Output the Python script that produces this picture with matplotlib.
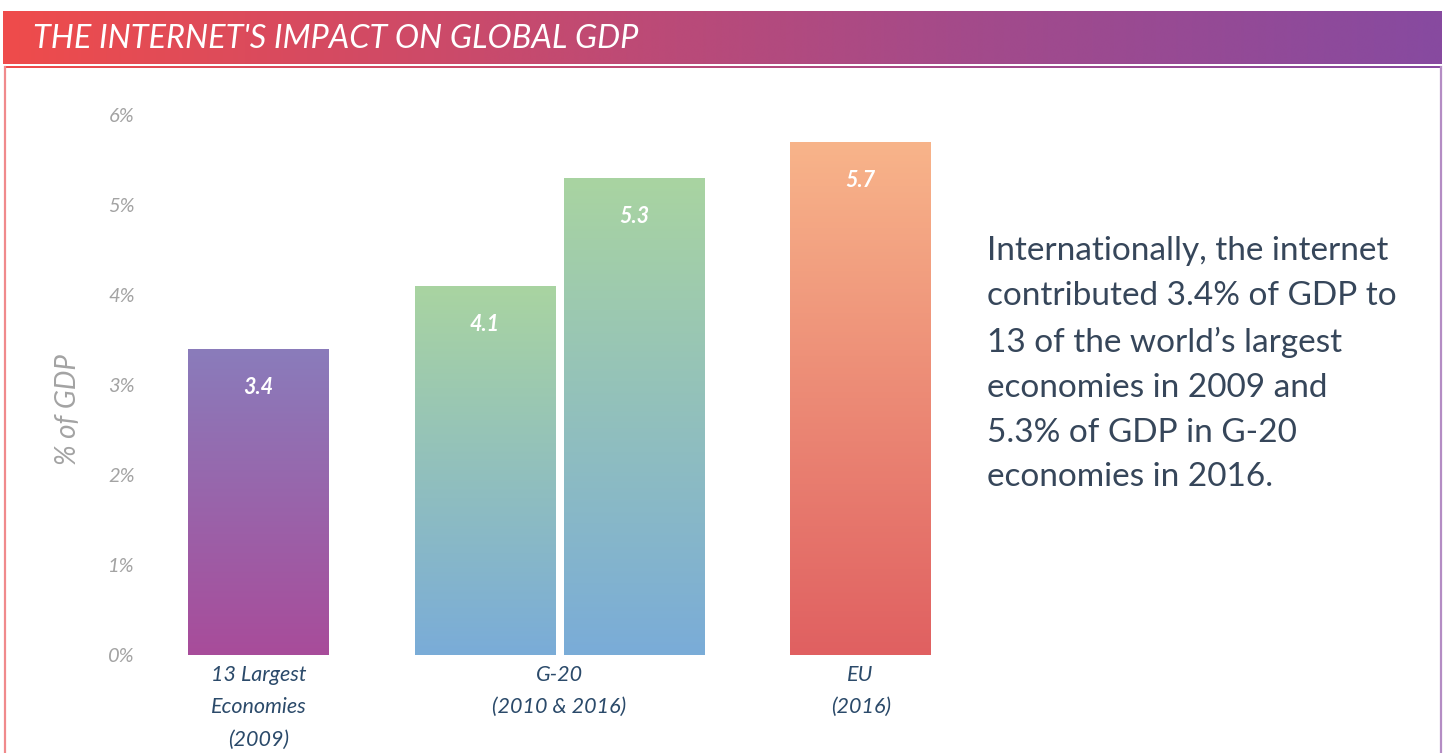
import numpy as np
import matplotlib
matplotlib.use("Agg")
import matplotlib.pyplot as plt
from matplotlib.colors import LinearSegmentedColormap

# ---- data ----
title = "THE INTERNET'S IMPACT ON GLOBAL GDP"
categories = ["13 Largest\nEconomies\n(2009)", "G-20\n(2010 & 2016)", "EU\n(2016)"]
bar_groups = [0, 1, 1, 2]                 # which category each bar belongs to
bar_values = [3.4, 4.1, 5.3, 5.7]
bar_labels = ["3.4", "4.1", "5.3", "5.7"]
y_ticks = [0, 1, 2, 3, 4, 5, 6]
y_tick_labels = ["0%", "1%", "2%", "3%", "4%", "5%", "6%"]
y_label = "% of GDP"
side_text = ("Internationally, the internet\ncontributed 3.4% of GDP to\n13 of the world\u2019s largest\n"
             "economies in 2009 and\n5.3% of GDP in G-20\neconomies in 2016.")
# gradient colours (top, bottom) per bar
bar_gradients = [("#8A7CBB", "#A84C9A"),
                 ("#A9D4A1", "#7AACD8"),
                 ("#A9D4A1", "#7AACD8"),
                 ("#F8B48A", "#E06061")]

W, H = 1443, 753
fig = plt.figure(figsize=(W / 100, H / 100), dpi=100)
fig.patch.set_facecolor("white")

# ---- background / header (pixel coordinates) ----
bg = fig.add_axes([0, 0, 1, 1])
bg.set_xlim(0, W)
bg.set_ylim(H, 0)
bg.axis("off")
hdr_cmap = LinearSegmentedColormap.from_list("hdr", ["#EF4C4B", "#C94A6C", "#A44A8A", "#874AA0"])
grad = np.linspace(0, 1, 512)[None, :]
bg.imshow(grad, cmap=hdr_cmap, extent=[3, 1442, 64, 11], aspect="auto", interpolation="bicubic")
bg.imshow(grad, cmap=hdr_cmap, extent=[4, 1441, 68, 66], aspect="auto", interpolation="bicubic")
bg.plot([4.5, 4.5], [67, H], color="#F08A8C", lw=1.6)
bg.plot([1440.5, 1440.5], [67, H], color="#B48CC4", lw=1.6)
bg.set_xlim(0, W)
bg.set_ylim(H, 0)
bg.text(33, 38.5, title, color="white", fontsize=23.4, fontstyle="italic",
        family="Lato", va="center", ha="left")

# ---- main chart ----
ax_left_px, ax_right_px = 150, 960
ax_bottom_px, ax_top_px = 655, 115
ax = fig.add_axes([ax_left_px / W, (H - ax_bottom_px) / H,
                   (ax_right_px - ax_left_px) / W, (ax_bottom_px - ax_top_px) / H])
ax.patch.set_alpha(0)

bar_w = 0.468
offset = 0.2475
counts = {g: bar_groups.count(g) for g in set(bar_groups)}
seen = {g: 0 for g in set(bar_groups)}
xpos = []
for g in bar_groups:
    if counts[g] == 1:
        xpos.append(g)
    else:
        xpos.append(g + (-offset if seen[g] == 0 else offset))
    seen[g] += 1

bars = ax.bar(xpos, bar_values, width=bar_w, color="none", edgecolor="none", zorder=2)
vgrad = np.linspace(1, 0, 256)[:, None]
for b, (ctop, cbot), lab in zip(bars, bar_gradients, bar_labels):
    cm = LinearSegmentedColormap.from_list("g", [cbot, ctop])
    x0, w, h = b.get_x(), b.get_width(), b.get_height()
    ax.imshow(vgrad, cmap=cm, extent=[x0, x0 + w, 0, h], aspect="auto",
              interpolation="bicubic", zorder=1, vmin=0, vmax=1)
    ax.annotate(lab, (x0 + w / 2, h), xytext=(0, -28), textcoords="offset points",
                ha="center", va="center", color="white", fontsize=15.5,
                fontstyle="italic", fontweight="bold", family="Lato", zorder=3)

ax.set_xlim(-0.360, 2.33)
ax.set_ylim(0, 6)
for s in ax.spines.values():
    s.set_visible(False)

ax.set_yticks(y_ticks)
ax.set_yticklabels(y_tick_labels, fontsize=14.5, fontstyle="italic", color="#A3A3A3",
                   family="Lato")
ax.tick_params(axis="y", length=0, pad=11)
ax.set_xticks(range(len(categories)))
ax.set_xticklabels(categories, fontsize=15.5, fontstyle="italic", color="#2B4A6A",
                   family="Lato", linespacing=1.78, va="top")
ax.tick_params(axis="x", length=0, pad=7)
ax.set_ylabel(y_label, fontsize=20, fontstyle="italic", color="#A3A3A3", family="Lato")
ax.yaxis.set_label_coords(-0.085, 0.455)

# ---- side text ----
fig.text(987 / W, 1 - 236 / H, side_text, fontsize=24, color="#36465A",
         family="Lato", va="top", ha="left", linespacing=1.62)

fig.savefig("out.png", dpi=100, facecolor="white")
